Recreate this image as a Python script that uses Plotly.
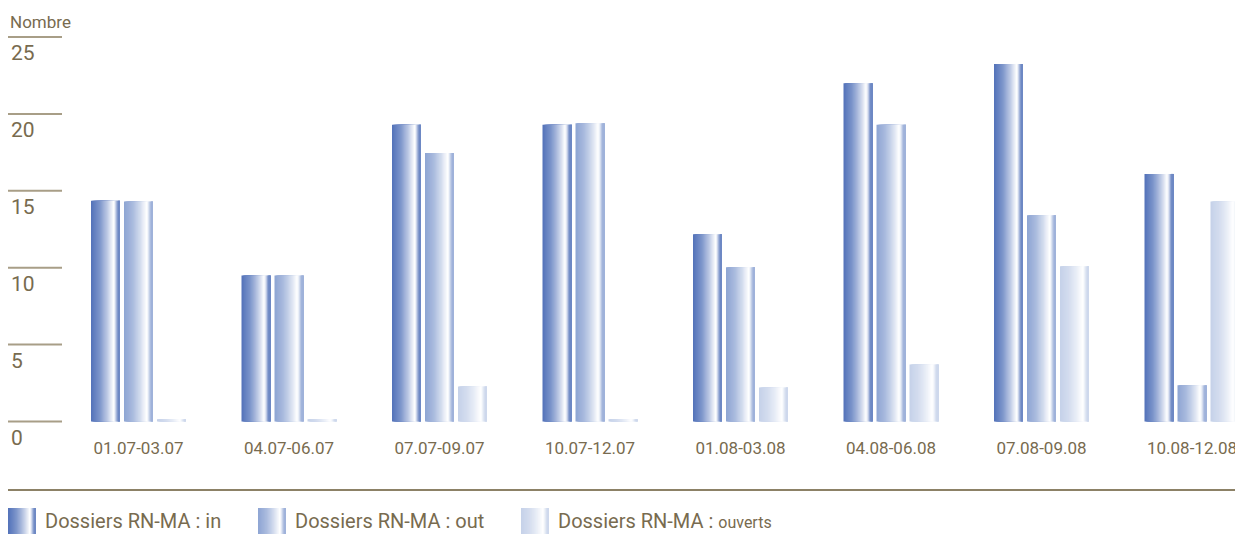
import plotly.graph_objects as go

# ---------------- data ----------------
categories = ["01.07-03.07", "04.07-06.07", "07.07-09.07", "10.07-12.07",
              "01.08-03.08", "04.08-06.08", "07.08-09.08", "10.08-12.08"]
dossiers_in = [14.35, 9.5, 19.3, 19.3, 12.17, 22.0, 23.25, 16.1]
dossiers_out = [14.3, 9.5, 17.45, 19.4, 10.03, 19.3, 13.41, 2.35]
dossiers_ouverts = [0.15, 0.15, 2.28, 0.15, 2.21, 3.71, 10.09, 14.3]
series_names = ["Dossiers RN-MA : in", "Dossiers RN-MA : out", "Dossiers RN-MA : ouverts"]
y_tick_values = [0, 5, 10, 15, 20, 25]
y_tick_labels = ["0", "5", "10", "15", "20", "25"]

# ---------------- styling ----------------
OFF = 8  # page body margin
W, H = 1243 - OFF, 534 - OFF
TEXT = "#786b4f"
RULE = "#a89e87"
RULE_DARK = "#8c8166"
FONT = "Roboto"
base_colors = [(82, 114, 185), (141, 164, 211), (197, 209, 233)]
# horizontal gradient profile: (position across bar, amount of white)
profile = [(0.0, 0.0), (0.3, 0.25), (0.55, 0.6), (0.72, 0.9), (0.78, 1.0),
           (0.83, 0.85), (0.88, 0.45), (0.93, 0.18), (1.0, 0.15)]


def whiten_at(base, f):
    for (f0, t0), (f1, t1) in zip(profile[:-1], profile[1:]):
        if f0 <= f <= f1:
            t = t0 + (t1 - t0) * (f - f0) / (f1 - f0)
            break
    else:
        t = profile[-1][1]
    r, g, b = [round(c + (255 - c) * t) for c in base]
    return f"rgb({r},{g},{b})"


spacing_px = 150.5
bar_px = 29.0
step_px = 33.0
group_left_px = -47.5
N = 24

plot_bottom = 425 - OFF
margin_b = H - plot_bottom
zero_px = 421.5 - OFF
px_per_unit = 15.38

fig = go.Figure()
series_values = [dossiers_in, dossiers_out, dossiers_ouverts]
for s, vals in enumerate(series_values):
    left = (group_left_px + step_px * s) / spacing_px
    bw = bar_px / spacing_px
    d = bw / N
    for k in range(N):
        f = (k + 0.5) / N
        fig.add_trace(go.Bar(
            x=categories, y=vals,
            offset=left + k * d, width=bw - k * d,
            marker=dict(color=whiten_at(base_colors[s], f), line=dict(width=0)),
            showlegend=False, hoverinfo="skip", name=series_names[s],
        ))

x0 = -(138.5 - OFF) / spacing_px
x1 = x0 + W / spacing_px
y1 = zero_px / px_per_unit
y0 = -(plot_bottom - zero_px) / px_per_unit


def px(xref_px):
    return (xref_px - OFF) / W


def py(yref_px):
    return (plot_bottom - (yref_px - OFF)) / plot_bottom


shapes = []
for v in y_tick_values:
    shapes.append(dict(type="line", xref="paper", yref="y",
                       x0=px(8), x1=px(62), y0=v, y1=v,
                       line=dict(color=RULE, width=2), layer="above"))

# legend separator
shapes.append(dict(type="line", xref="paper", yref="paper",
                   x0=px(8), x1=px(1240), y0=py(490), y1=py(490),
                   line=dict(color=RULE_DARK, width=2)))

annotations = [dict(text="Nombre", xref="paper", yref="paper", x=px(8), y=py(22),
                    xanchor="left", yanchor="middle", showarrow=False,
                    font=dict(family=FONT, size=17, color=TEXT))]

sw_left = [8, 258, 521]
txt_left = [43, 293, 556]
legend_texts = ["Dossiers RN-MA : in", "Dossiers RN-MA : out",
                "Dossiers RN-MA : <span style='font-size:16px'>ouverts</span>"]
sw_w = 28
for s in range(3):
    d = sw_w / N
    for k in range(N):
        f = (k + 0.5) / N
        shapes.append(dict(type="rect", xref="paper", yref="paper",
                           x0=px(sw_left[s] + k * d), x1=px(sw_left[s] + sw_w),
                           y0=py(534), y1=py(508),
                           fillcolor=whiten_at(base_colors[s], f), line=dict(width=0)))
    annotations.append(dict(text=legend_texts[s], xref="paper", yref="paper",
                            x=px(txt_left[s]), y=py(521), xanchor="left", yanchor="middle",
                            showarrow=False, font=dict(family=FONT, size=20, color=TEXT)))

fig.update_layout(
    width=W, height=H,
    margin=dict(l=0, r=0, t=0, b=margin_b, pad=0),
    paper_bgcolor="white", plot_bgcolor="white",
    barmode="overlay",
    showlegend=False,
    shapes=shapes,
    annotations=annotations,
    xaxis=dict(type="category", range=[x0, x1], showgrid=False, zeroline=False,
               showline=False, ticks="", tickfont=dict(family=FONT, size=17, color=TEXT),
               ticklabelstandoff=11),
    yaxis=dict(range=[y0, y1], showgrid=False, zeroline=False, showline=False,
               tickvals=y_tick_values, ticktext=y_tick_labels, ticks="",
               ticklabelposition="inside", ticklabelshift=16, ticklabelstandoff=0,
               ticklabeloverflow="allow",
               tickfont=dict(family=FONT, size=21, color=TEXT)),
)

fig.write_html("out.html")
